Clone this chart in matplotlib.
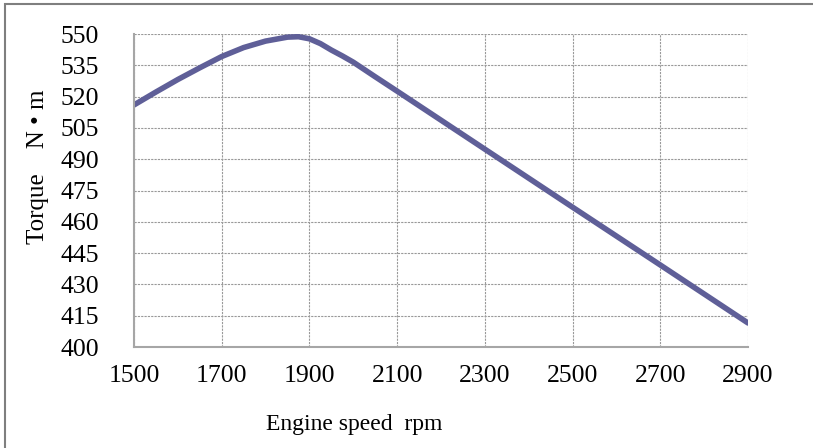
import numpy as np
import matplotlib.pyplot as plt
from matplotlib.patches import Rectangle

# engine speed (rpm) and torque (N*m)
speed = [1500, 1550, 1600, 1650, 1700, 1750, 1800, 1850, 1875, 1900,
         1925, 1950, 1975, 2000, 2050, 2100, 2300, 2500, 2700, 2900]
torque = [516.0, 522.2, 528.2, 533.8, 539.2, 543.5, 546.6, 548.5, 548.7, 547.7,
          545.4, 542.3, 539.5, 536.5, 529.5, 522.6, 494.8, 467.0, 439.3, 411.5]

x_ticks = [1500, 1700, 1900, 2100, 2300, 2500, 2700, 2900]
y_ticks = [400, 415, 430, 445, 460, 475, 490, 505, 520, 535, 550]

plt.rcParams['font.family'] = ['Liberation Serif', 'DejaVu Serif']

fig = plt.figure(figsize=(8.13, 4.48), dpi=100)
ax = fig.add_axes([134 / 813, 1 - 347 / 448, (748 - 134) / 813, (347 - 34) / 448])

# outer chart border (only top and left edges are visible in the picture)
fig.patches.append(Rectangle((5 / 813, -0.1), 1.2, 1 - 4 / 448 + 0.1,
                             transform=fig.transFigure, fill=False,
                             edgecolor='#7f7f7f', linewidth=1.5))

ax.plot(speed, torque, color='#5f5f98', linewidth=4.0,
        solid_capstyle='round', solid_joinstyle='round')

ax.set_xlim(1500, 2900)
ax.set_ylim(400, 550)
ax.set_xticks(x_ticks)
ax.set_yticks(y_ticks)
ax.tick_params(length=0, labelsize=18.5, colors='black')
ax.tick_params(axis='x', pad=13)
ax.tick_params(axis='y', pad=25)

ax.grid(True, color='#999999', linestyle=(0, (2, 1)), linewidth=0.8)
ax.set_axisbelow(True)
for side in ['top', 'right']:
    ax.spines[side].set_visible(False)
for side in ['left', 'bottom']:
    ax.spines[side].set_color('#a6a6a6')
    ax.spines[side].set_linewidth(1.5)

fig.text(354 / 813, 1 - 424 / 448, 'Engine speed  rpm', fontsize=17,
         ha='center', va='center')
fig.text(38 / 813, 1 - 167 / 448, 'Torque    N • m', fontsize=18,
         rotation=90, ha='center', va='center')

fig.savefig('out.png', dpi=100)
